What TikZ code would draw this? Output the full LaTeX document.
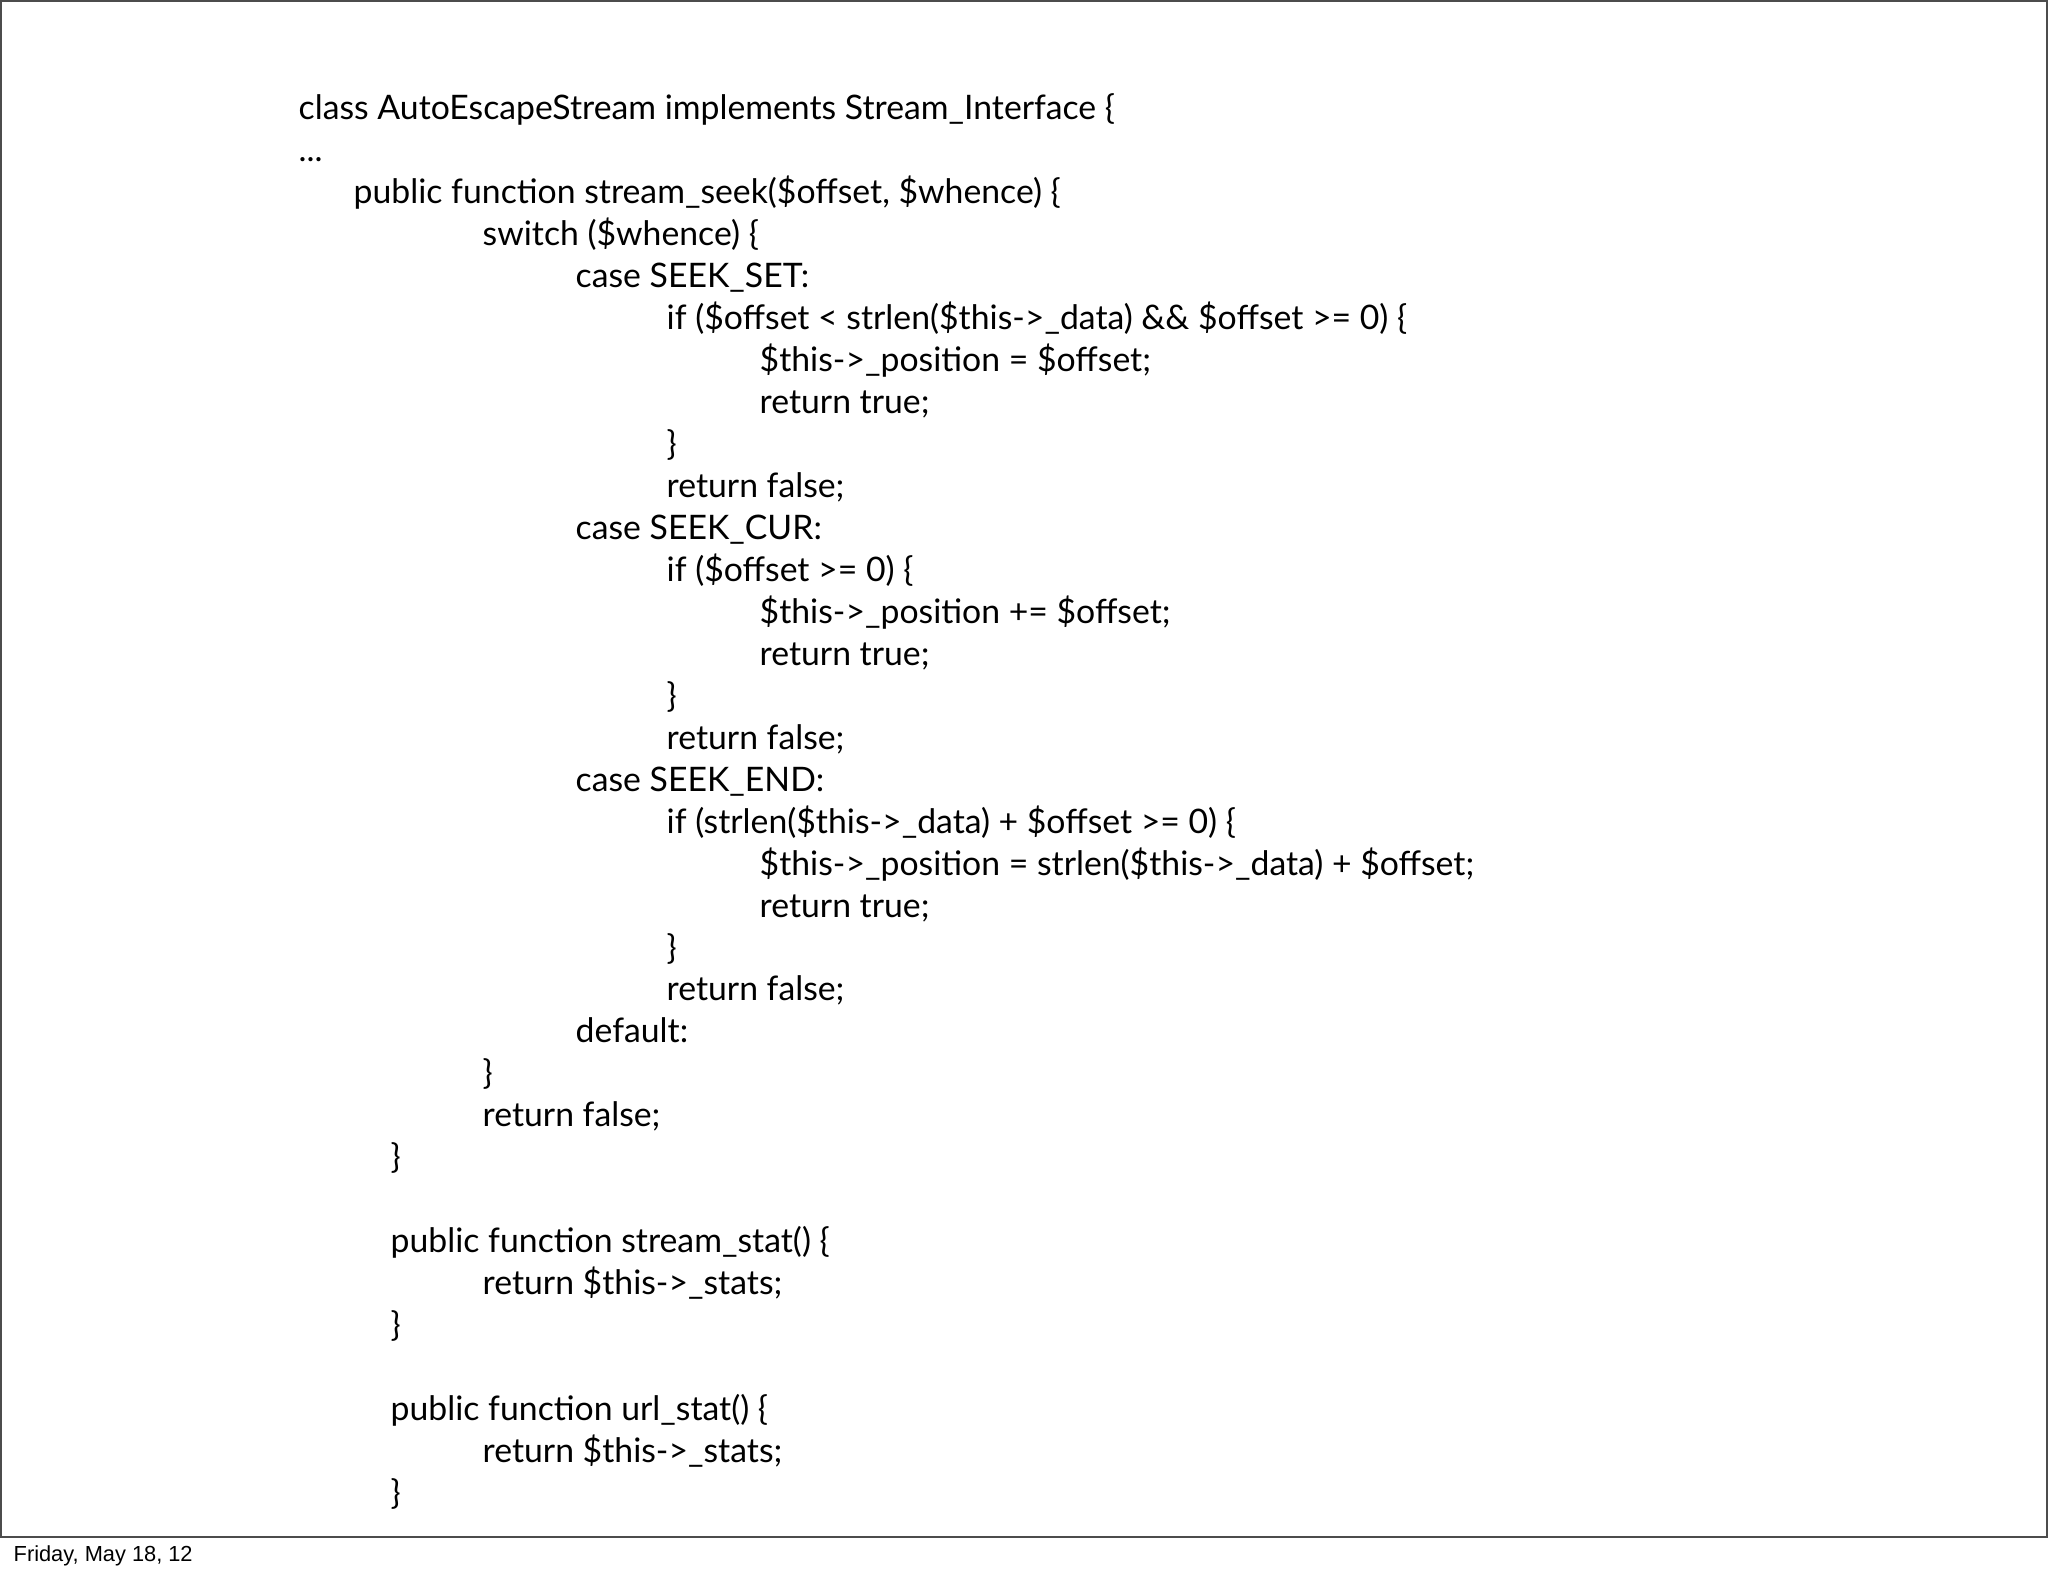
\documentclass[tikz,border=0pt]{standalone}
\usepackage{fontspec}
\setmainfont{Lato}
\newfontfamily\footfont{Liberation Sans}
\begin{document}
\begin{tikzpicture}[x=0.01cm,y=-0.01cm,
  codeline/.style={anchor=base west,inner sep=0pt,font=\fontsize{9.6pt}{11pt}\selectfont}]
\useasboundingbox (0,0) rectangle (2048,1576);
\fill[white] (0,0) rectangle (2048,1576);
\draw[line width=0.5pt,black!70] (1,1) rectangle (2047,1537);
\node[anchor=base west,inner sep=0pt,font=\footfont\fontsize{6.2pt}{7pt}\selectfont] (foot) at (13,1561) {Friday, May 18, 12};
\def\LH{41.95}
\foreach \i/\x/\t in {
 1/298/{class AutoEscapeStream implements Stream\_Interface \{},
 2/298/{...},
 3/353/{public function stream\_seek(\$offset, \$whence) \{},
 4/482/{switch (\$whence) \{},
 5/575/{case SEEK\_SET:},
 6/666/{if (\$offset < strlen(\$this->\_data) \&\& \$offset >= 0) \{},
 7/759/{\$this->\_position = \$offset;},
 8/759/{return true;},
 9/666/{\}},
 10/666/{return false;},
 11/575/{case SEEK\_CUR:},
 12/666/{if (\$offset >= 0) \{},
 13/759/{\$this->\_position += \$offset;},
 14/759/{return true;},
 15/666/{\}},
 16/666/{return false;},
 17/575/{case SEEK\_END:},
 18/666/{if (strlen(\$this->\_data) + \$offset >= 0) \{},
 19/759/{\$this->\_position = strlen(\$this->\_data) + \$offset;},
 20/759/{return true;},
 21/666/{\}},
 22/666/{return false;},
 23/575/{default:},
 24/482/{\}},
 25/482/{return false;},
 26/390/{\}},
 28/390/{public function stream\_stat() \{},
 29/482/{return \$this->\_stats;},
 30/390/{\}},
 32/390/{public function url\_stat() \{},
 33/482/{return \$this->\_stats;},
 34/390/{\}}}
 { \node[codeline] (l\i) at (\x,{120+(\i-1)*\LH}) {\t}; }
\end{tikzpicture}
\end{document}
